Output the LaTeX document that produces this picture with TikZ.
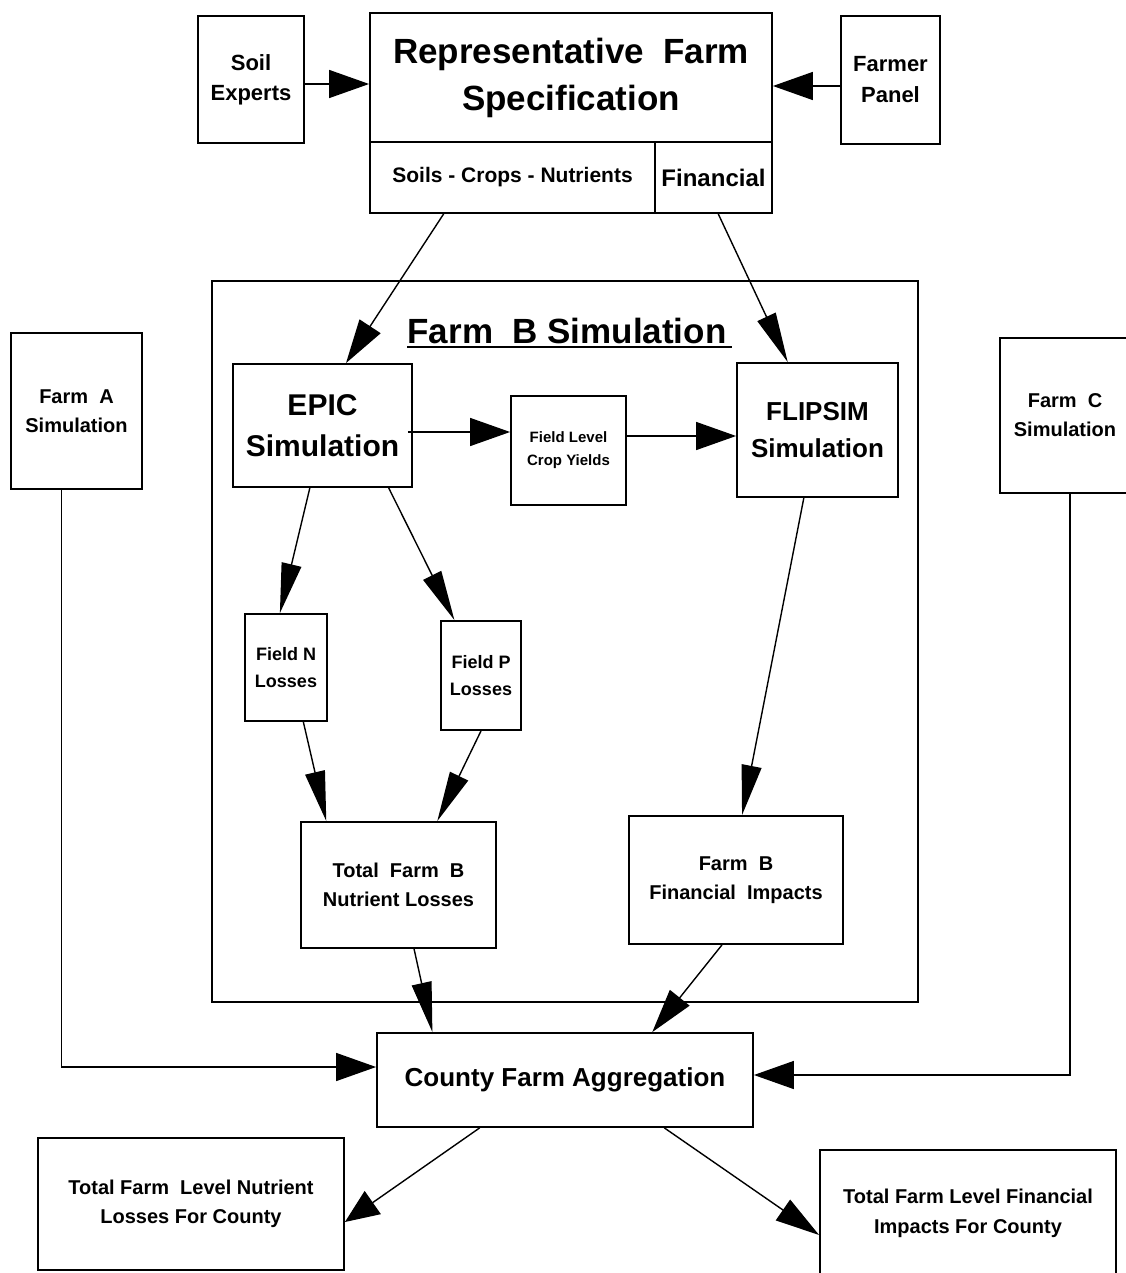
\documentclass[tikz,border=0pt]{standalone}
\usepackage{fontspec}
\setmainfont{Liberation Sans}
\usetikzlibrary{arrows.meta,calc}
\newcommand\myfs[2]{\bfseries\fontsize{#1}{#2}\selectfont}
\begin{document}
\begin{tikzpicture}[x=1pt,y=-1pt,
  box/.style={draw, line width=1.8pt, inner sep=0pt, align=center},
  conn/.style={line width=1.4pt},
  arrH/.style={conn, -{Triangle[length=40pt,width=28pt]}},
  arrV/.style={conn, -{Triangle[length=50pt,width=20pt]}},
  arrD/.style={conn, -{Triangle[length=44pt,width=25pt]}},
  arrS/.style={conn, -{Triangle[length=34pt,width=28pt]}},
]
\useasboundingbox (0,0) rectangle (1125,1273);
\fill[white] (0,0) rectangle (1125,1273);

% top row
\node[box, minimum width=106pt, minimum height=127pt, font=\myfs{22}{30}] (soil) at (251,79.5) {Soil\\Experts};
\node[box, minimum width=402pt, minimum height=129pt, font=\myfs{35}{47}] (spec) at (571,77.5) {Representative~~Farm\\Specification};
\node[box, minimum width=285pt, minimum height=71pt, font=\myfs{21}{28}] (scn) at (512.5,177.5) {Soils - Crops - Nutrients};
\node[box, minimum width=117pt, minimum height=71pt, font=\myfs{24}{30}] (fin) at (713.5,177.5) {Financial};
\node[box, minimum width=99pt, minimum height=128pt, font=\myfs{22}{31}] (farmer) at (890.5,80) {Farmer\\Panel};

% Farm B frame
\node[draw, line width=1.8pt, minimum width=706pt, minimum height=721pt, inner sep=0pt] (frame) at (565,641.5) {};
\node[font=\myfs{35}{47}, inner sep=0pt, anchor=base] (title) at (567,343) {Farm~~B Simulation};
\draw[line width=1.8pt] ([yshift=-4pt]title.base west) -- ([yshift=-4pt,xshift=5pt]title.base east);

\node[box, minimum width=179pt, minimum height=123pt, font=\myfs{30}{41}] (epic) at (322.5,425.5) {EPIC\\Simulation};
\node[box, minimum width=115pt, minimum height=109pt, font=\myfs{15}{23}] (fly) at (568.5,450.5) {Field Level\\Crop Yields};
\node[box, minimum width=161pt, minimum height=134pt, font=\myfs{26}{37}] (flip) at (817.5,430) {FLIPSIM\\Simulation};

\node[box, minimum width=131pt, minimum height=156pt, font=\myfs{20}{29}] (farma) at (76.5,411) {Farm~~A\\Simulation};
\node[box, minimum width=130pt, minimum height=155pt, font=\myfs{20}{29}] (farmc) at (1065,415.5) {Farm~~C\\Simulation};

\node[box, minimum width=82pt, minimum height=107pt, font=\myfs{18}{27}] (fieldn) at (286,667.5) {Field N\\Losses};
\node[box, minimum width=80pt, minimum height=109pt, font=\myfs{18}{27}] (fieldp) at (481,675.5) {Field P\\Losses};

\node[box, minimum width=195pt, minimum height=126pt, font=\myfs{20}{29}] (totn) at (398.5,885) {Total~~Farm~~B\\Nutrient Losses};
\node[box, minimum width=214pt, minimum height=128pt, font=\myfs{20}{29}] (finb) at (736,880) {Farm~~B\\Financial~~Impacts};

\node[box, minimum width=376pt, minimum height=94pt, font=\myfs{26}{35}] (county) at (565,1080) {County Farm Aggregation};

\node[box, minimum width=306pt, minimum height=132pt, font=\myfs{20}{29}] (totnc) at (191,1204) {Total Farm~~Level Nutrient\\Losses For County};
\node[box, minimum width=296pt, minimum height=126pt, font=\myfs{20}{30}] (totfc) at (968,1213) {Total Farm Level Financial\\Impacts For County};

% connectors
\draw[arrH] ([yshift=-4.5pt]soil.east) -- ([yshift=-4.5pt]soil.east -| spec.west);
\draw[arrH] ([yshift=-6pt]farmer.west) -- ([yshift=-6pt]farmer.west -| spec.east);

\draw[arrD] ($(scn.south west)!0.26!(scn.south east)$) -- ($(epic.north west)!0.63!(epic.north east)$);
\draw[arrV] ($(fin.south west)!0.54!(fin.south east)$) -- ($(flip.north west)!0.317!(flip.north east)$);

\draw[arrH] ([yshift=-6.5pt,xshift=-5pt]epic.east) -- ([yshift=-6.5pt]epic.east -| fly.west);
\draw[arrH] ([yshift=14.5pt]fly.east) -- ([yshift=14.5pt]fly.east -| flip.west);

\draw[arrV] ($(epic.south west)!0.43!(epic.south east)$) -- ($(fieldn.north west)!0.427!(fieldn.north east)$);
\draw[arrV] ($(epic.south west)!0.866!(epic.south east)$) -- ($(fieldp.north west)!0.175!(fieldp.north east)$);

\draw[arrV] ($(fieldn.south west)!0.707!(fieldn.south east)$) -- ($(totn.north west)!0.133!(totn.north east)$);
\draw[arrV] (fieldp.south) -- ($(totn.north west)!0.697!(totn.north east)$);

\draw[arrV] ($(flip.south west)!0.416!(flip.south east)$) -- ($(finb.north west)!0.528!(finb.north east)$);

\draw[arrV] ($(totn.south west)!0.579!(totn.south east)$) -- ($(county.north west)!0.149!(county.north east)$);
\draw[arrD] ($(finb.south west)!0.435!(finb.south east)$) -- ($(county.north west)!0.731!(county.north east)$);

\draw[arrH] ($(farma.south west)!0.389!(farma.south east)$) |- ([yshift=13pt]county.west);
\draw[arrH] ($(farmc.south west)!0.538!(farmc.south east)$) |- ([yshift=5pt]county.east);

\draw[arrS] ($(county.south west)!0.274!(county.south east)$) -- ([yshift=-18pt]totnc.east);
\draw[arrD] ($(county.south west)!0.763!(county.south east)$) -- ([yshift=-22pt]totfc.west);
\end{tikzpicture}
\end{document}
